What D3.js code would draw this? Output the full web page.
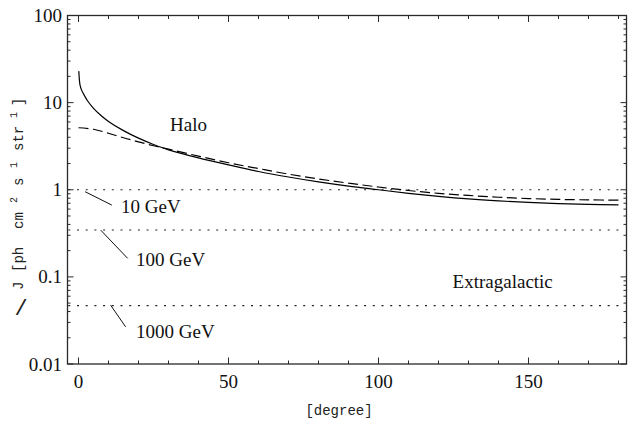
<!DOCTYPE html>
<html>
<head>
<meta charset="utf-8">
<script src="https://cdn.jsdelivr.net/npm/d3@7"></script>
<style>
  html, body { margin: 0; padding: 0; background: #fff; }
  svg { display: block; }
  .serif { font-family: "Liberation Serif", "Times New Roman", serif; fill: #111; }
  .mono { font-family: "Liberation Mono", "Courier New", monospace; fill: #222; }
</style>
</head>
<body>
<svg id="chart" width="629" height="424"></svg>
<script>
// ---- data ----
const haloAngles = [0.1, 0.5, 1, 2, 3, 5, 7.5, 10, 15, 20, 25, 30, 40, 50, 60, 70, 80, 90, 100, 110, 120, 130, 140, 150, 160, 170, 180];
const haloNFW    = [23, 16, 14, 12, 10.5, 8.6, 7.13, 6.09, 4.77, 3.91, 3.31, 2.87, 2.32, 1.93, 1.62, 1.4, 1.23, 1.1, 1.0, 0.91, 0.84, 0.785, 0.745, 0.715, 0.693, 0.678, 0.67];
const isoAngles  = [0, 5, 10, 15, 20, 25, 30, 40, 50, 60, 70, 80, 90, 100, 110, 120, 130, 140, 150, 160, 170, 180];
const haloIso    = [5.15, 4.95, 4.45, 3.95, 3.55, 3.2, 2.93, 2.43, 2.04, 1.75, 1.51, 1.33, 1.19, 1.075, 0.98, 0.91, 0.86, 0.82, 0.793, 0.775, 0.765, 0.76];
const extraLabels = ["10 GeV", "100 GeV", "1000 GeV"];
const extraValues = [1.0, 0.345, 0.0468];
// leader line ends (angle, value) for each extragalactic label
const leaderFrom = [[2.2, 0.95], [7.4, 0.344], [10.7, 0.0474]];
const leaderTo   = [[11.1, 0.667], [16.4, 0.163], [15.7, 0.0267]];
const labelAt    = [[14.2, 0.54], [19.2, 0.133], [19.2, 0.0198]];
const xTickMajor = [0, 50, 100, 150];
const yTickMajor = [100, 10, 1, 0.1, 0.01];
const yTickLabels = ["100", "10", "1", "0.1", "0.01"];

// ---- layout ----
const svg = d3.select("#chart");
const L = 67.5, R = 626.5, T = 15.5, B = 364;
const x = d3.scaleLinear().domain([-3.667, 182.667]).range([L, R]);
const y = d3.scaleLog().domain([0.01, 100]).range([B, T]);

const xMinor = d3.range(0, 181, 10).filter(v => v % 50 !== 0);
const yMinor = [];
[0.01, 0.1, 1, 10].forEach(d => { for (let k = 2; k <= 9; k++) yMinor.push(d * k); });

const axisColor = "#2a2a2a";
const g = svg.append("g");

// frame
g.append("rect").attr("x", L).attr("y", T).attr("width", R - L).attr("height", B - T)
  .attr("fill", "none").attr("stroke", axisColor).attr("stroke-width", 1.3);

// x ticks (bottom and top, inward)
function xTicks(vals, len) {
  vals.forEach(v => {
    g.append("line").attr("x1", x(v)).attr("x2", x(v)).attr("y1", B).attr("y2", B - len)
      .attr("stroke", axisColor).attr("stroke-width", 1);
    g.append("line").attr("x1", x(v)).attr("x2", x(v)).attr("y1", T).attr("y2", T + len)
      .attr("stroke", axisColor).attr("stroke-width", 1);
  });
}
xTicks(xTickMajor, 6.5);
xTicks(xMinor, 3.5);

function yTicks(vals, len) {
  vals.forEach(v => {
    g.append("line").attr("x1", L).attr("x2", L + len).attr("y1", y(v)).attr("y2", y(v))
      .attr("stroke", axisColor).attr("stroke-width", 1);
    g.append("line").attr("x1", R).attr("x2", R - len).attr("y1", y(v)).attr("y2", y(v))
      .attr("stroke", axisColor).attr("stroke-width", 1);
  });
}
yTicks(yTickMajor, 6);
yTicks(yMinor, 3);

// tick labels
xTickMajor.forEach(v => {
  g.append("text").attr("class", "serif").attr("x", x(v)).attr("y", 388)
    .attr("text-anchor", "middle").attr("font-size", 19).text(v);
});
yTickMajor.forEach((v, i) => {
  g.append("text").attr("class", "serif").attr("x", 62).attr("y", y(v) + 6.5)
    .attr("text-anchor", "end").attr("font-size", 19).text(yTickLabels[i]);
});

// extragalactic dotted lines
extraValues.forEach(v => {
  g.append("line").attr("x1", x(-3.4)).attr("x2", x(180)).attr("y1", y(v)).attr("y2", y(v))
    .attr("stroke", "#222").attr("stroke-width", 1.2).attr("stroke-dasharray", "2,6.7");
});

// curves
const line = d3.line().x(d => x(d[0])).y(d => y(d[1])).curve(d3.curveCatmullRom.alpha(0.5));
g.append("path").datum(haloAngles.map((a, i) => [a, haloNFW[i]]))
  .attr("d", line).attr("fill", "none").attr("stroke", "#000").attr("stroke-width", 1.2);
g.append("path").datum(isoAngles.map((a, i) => [a, haloIso[i]]))
  .attr("d", line).attr("fill", "none").attr("stroke", "#000").attr("stroke-width", 1.2)
  .attr("stroke-dasharray", "10,4.5");

// leaders and labels
extraLabels.forEach((t, i) => {
  g.append("line").attr("x1", x(leaderFrom[i][0])).attr("y1", y(leaderFrom[i][1]))
    .attr("x2", x(leaderTo[i][0])).attr("y2", y(leaderTo[i][1]))
    .attr("stroke", "#111").attr("stroke-width", 1);
  g.append("text").attr("class", "serif").attr("x", x(labelAt[i][0])).attr("y", y(labelAt[i][1]))
    .attr("font-size", 19).text(t);
});
g.append("text").attr("class", "serif").attr("x", x(30.5)).attr("y", y(4.72)).attr("font-size", 19).text("Halo");
g.append("text").attr("class", "serif").attr("x", x(124.7)).attr("y", y(0.0754)).attr("font-size", 19).text("Extragalactic");

// axis titles
g.append("text").attr("class", "mono").attr("x", 339).attr("y", 415)
  .attr("text-anchor", "middle").attr("font-size", 14).text("[degree]");

// slash drawn upright, as in the reference
g.append("text").attr("class", "mono").attr("x", 21).attr("y", 315)
  .attr("text-anchor", "middle").attr("font-size", 22).attr("fill", "#444").text("/");

const yl = g.append("g").attr("transform", "translate(23,0) rotate(-90)");
const chunks = [
  { t: "J", at: 290, size: 14, sup: false },
  { t: "[ph", at: 272, size: 14, sup: false },
  { t: "cm", at: 229, size: 14, sup: false },
  { t: "2", at: 203, size: 10, sup: true },
  { t: "s", at: 186, size: 14, sup: false },
  { t: "1", at: 168, size: 10, sup: true },
  { t: "str", at: 151, size: 14, sup: false },
  { t: "1", at: 118, size: 10, sup: true },
  { t: "]", at: 106, size: 14, sup: false }
];
chunks.forEach(c => {
  yl.append("text").attr("class", "mono").attr("x", -c.at).attr("y", c.sup ? -6 : 0)
    .attr("font-size", c.size).text(c.t);
});
</script>
</body>
</html>
